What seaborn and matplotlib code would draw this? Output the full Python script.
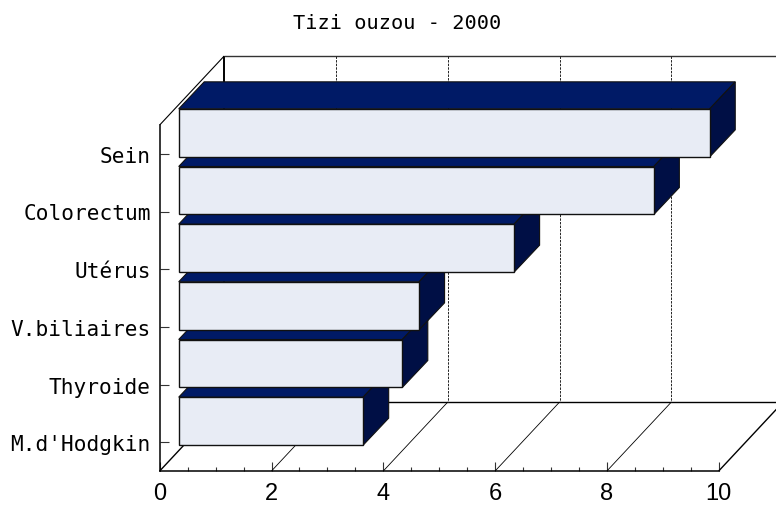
import matplotlib
matplotlib.use("Agg")
import matplotlib.pyplot as plt
import numpy as np
import pandas as pd
import seaborn as sns
from matplotlib.patches import Polygon

# values
sites = ["Sein", "Colorectum", "Utérus", "V.biliaires", "Thyroide", "M.d'Hodgkin"]
rates = [9.5, 8.5, 6.0, 4.3, 4.0, 3.3]
x_ticks = [0, 2, 4, 6, 8, 10]
x_minor = [v / 2 for v in range(0, 21) if v % 4 != 0]

FACE = "#e8ecf5"
TOP = "#001a66"
SIDE = "#000f45"
EDGE = "#111111"

sns.set_theme(style="white")
plt.rcParams["font.family"] = ["Liberation Sans", "DejaVu Sans"]

W, H = 776, 506
fig = plt.figure(figsize=(W / 100, H / 100), dpi=100)
ax = fig.add_axes([159.7 / W, 1 - 472 / H, (719 - 160) / W, (472 - 126) / H])

df = pd.DataFrame({"site": sites, "rate": rates})
sns.barplot(data=df, x="rate", y="site", orient="h", width=48 / 57.67,
            color=FACE, saturation=1, edgecolor=EDGE, linewidth=1, ax=ax)
ax.set_xlim(0, 10)
ax.set_ylim(5.5, -0.5)
ax.set_xlabel("")
ax.set_ylabel("")

# pixel sizes in data units
ux = 10 / (719 - 160)
uy = 6 / (472 - 126)
wall_x, wall_y = 64.5 * ux, 69 * uy
bar_x, bar_y = 19 * ux, 21 * uy
dep_x, dep_y = 25.5 * ux, 27 * uy

# back walls and floor
line = dict(clip_on=False, zorder=1, solid_capstyle="butt")
ax.plot([0, wall_x], [-0.5, -0.5 - wall_y], color="black", lw=0.8, **line)
ax.plot([wall_x, wall_x], [-0.5 - wall_y, 5.5 - wall_y], color="black", lw=1.4, **line)
ax.plot([wall_x, 10 + wall_x], [-0.5 - wall_y] * 2, color="#333333", lw=1, **line)
ax.plot([wall_x, 10 + wall_x], [5.5 - wall_y] * 2, color="black", lw=1, **line)
for v in x_ticks:
    ax.plot([v, v + wall_x], [5.5, 5.5 - wall_y], color="black",
            lw=1.0 if v in (0, 10) else 0.6, **line)
    if v not in (0, 10):
        ax.plot([v + wall_x, v + wall_x], [-0.5 - wall_y, 5.5 - wall_y], color="#222222",
                lw=0.7, ls=(0, (2.5, 1.2)), clip_on=False, zorder=1)

# extrude the seaborn bars, upper rows sit in front of the lower ones
for i, bar in enumerate(ax.patches):
    val = bar.get_width()
    y0 = bar.get_y() - bar_y
    y1 = y0 + bar.get_height()
    z = 10 + (len(sites) - i)
    bar.set_x(bar_x)
    bar.set_y(y0)
    bar.set_zorder(z + 0.1)
    bar.set_clip_on(False)
    x0, x1 = bar_x, bar_x + val
    top = Polygon([(x0, y0), (x1, y0), (x1 + dep_x, y0 - dep_y), (x0 + dep_x, y0 - dep_y)],
                  closed=True, fc=TOP, ec=EDGE, lw=0.8, zorder=z, clip_on=False)
    side = Polygon([(x1, y0), (x1 + dep_x, y0 - dep_y), (x1 + dep_x, y1 - dep_y), (x1, y1)],
                   closed=True, fc=SIDE, ec=EDGE, lw=0.8, zorder=z, clip_on=False)
    ax.add_patch(top)
    ax.add_patch(side)

for name in ("top", "right"):
    ax.spines[name].set_visible(False)
for name in ("left", "bottom"):
    ax.spines[name].set_visible(True)
    ax.spines[name].set_color("black")
    ax.spines[name].set_linewidth(1.1)

ax.set_xticks(x_ticks)
ax.set_xticks(x_minor, minor=True)
ax.tick_params(axis="x", which="major", direction="in", length=6.5, width=0.8, color="#333333",
               bottom=True, labelsize=17, pad=8, labelcolor="black",
               labelfontfamily="Liberation Sans")
ax.tick_params(axis="x", which="minor", direction="in", length=3.2, width=0.8, color="#333333",
               bottom=True)
ax.tick_params(axis="y", which="major", direction="in", length=6.5, width=0.8, color="#333333",
               left=True, pad=6.5, labelcolor="black")
for label in ax.get_yticklabels():
    label.set_fontfamily("DejaVu Sans Mono")
    label.set_fontsize(15.2)

fig.text(397 / W, 1 - 24 / H, "Tizi ouzou - 2000", ha="center", va="center",
         fontfamily="DejaVu Sans Mono", fontsize=14.6, color="black")

fig.savefig("out.png", dpi=100, facecolor="white")
